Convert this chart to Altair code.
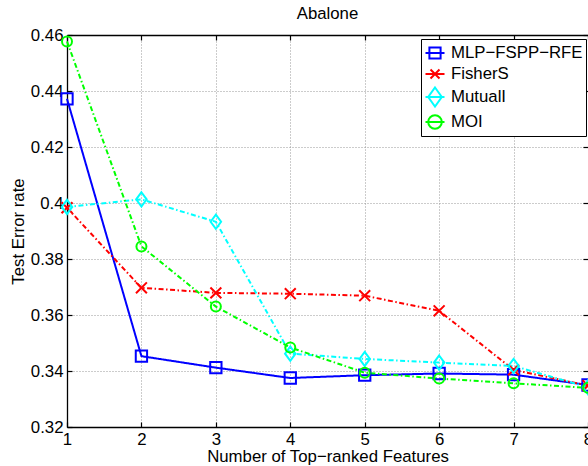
import altair as alt
import pandas as pd

features = [1, 2, 3, 4, 5, 6, 7, 8]
series_names = ["MLP−FSPP−RFE", "FisherS", "MutualI", "MOI"]
mlp = [0.4372, 0.3453, 0.3412, 0.3375, 0.3385, 0.3391, 0.3387, 0.3350]
fisher = [0.3983, 0.3697, 0.3679, 0.3676, 0.3669, 0.3615, 0.3404, 0.3348]
mutual = [0.3986, 0.4013, 0.3933, 0.3462, 0.3443, 0.3430, 0.3418, 0.3342]
moi = [0.4577, 0.3845, 0.3630, 0.3484, 0.3394, 0.3373, 0.3356, 0.3340]
y_ticks = [0.32, 0.34, 0.36, 0.38, 0.40, 0.42, 0.44, 0.46]
colors = ["#0000ff", "#ff0000", "#00ffff", "#00ff00"]

rows = []
for name, vals in zip(series_names, [mlp, fisher, mutual, moi]):
    for f, v in zip(features, vals):
        rows.append({"features": f, "error": v, "series": name})
df = pd.DataFrame(rows)

W, H = 521, 392
FONT = "Liberation Sans"
FS = 16.8

xs = alt.Scale(domain=[1, 8], nice=False, zero=False)
ys = alt.Scale(domain=[0.32, 0.46], nice=False, zero=False)

marker_shapes = [
    "square",
    "M-1,-1L1,1M-1,1L1,-1",
    "M0,-1.36L1,0L0,1.36L-1,0Z",
    "circle",
]
marker_sizes = [128, 100, 196, 196]
legend_shapes = [
    "M-0.95,0H0.95M-0.56,-0.56H0.56V0.56H-0.56Z",
    "M-0.95,0H0.95M-0.45,-0.45L0.45,0.45M-0.45,0.45L0.45,-0.45",
    "M-0.95,0H0.95M0,-0.95L0.68,0L0,0.95L-0.68,0Z",
    "M-0.95,0H0.95M-0.68,0A0.68,0.68 0 1,1 0.68,0A0.68,0.68 0 1,1 -0.68,0Z",
]
dashes = [[1, 0], [5, 2.5, 1.5, 2.5], [5, 2.5, 1.5, 2.5], [5, 2.5, 1.5, 2.5]]

color_scale = alt.Scale(domain=series_names, range=colors)
base = alt.Chart(df)

lines = base.mark_line(strokeWidth=2, clip=False).encode(
    x=alt.X("features:Q", scale=xs, title="Number of Top−ranked Features",
            axis=alt.Axis(values=features, orient="bottom", grid=True, ticks=False,
                          domain=True, labelFlush=False, labelPadding=4,
                          titlePadding=1, format="d")),
    y=alt.Y("error:Q", scale=ys, title="Test Error rate",
            axis=alt.Axis(values=y_ticks, orient="left", grid=True, ticks=False,
                          domain=True, labelFlush=False, labelPadding=4,
                          titlePadding=3, format=".2~f")),
    color=alt.Color("series:N", scale=color_scale, legend=None),
    strokeDash=alt.StrokeDash("series:N", scale=alt.Scale(domain=series_names, range=dashes), legend=None),
    order=alt.Order("features:Q"),
)

points = base.mark_point(filled=False, strokeWidth=2, opacity=1).encode(
    x=alt.X("features:Q", scale=xs,
            axis=alt.Axis(values=features, orient="top", offset=-H, grid=False, ticks=True,
                          tickSize=5, labels=False, domain=False, title=None)),
    y=alt.Y("error:Q", scale=ys,
            axis=alt.Axis(values=y_ticks, orient="right", offset=-W, grid=False, ticks=True,
                          tickSize=5, labels=False, domain=False, title=None)),
    color=alt.Color("series:N", scale=color_scale, legend=None),
    shape=alt.Shape("series:N", scale=alt.Scale(domain=series_names, range=marker_shapes), legend=None),
    size=alt.Size("series:N", scale=alt.Scale(domain=series_names, range=marker_sizes), legend=None),
)

legend_layer = base.transform_filter("false").mark_point(filled=False, strokeWidth=2, opacity=1).encode(
    x=alt.X("features:Q", scale=xs,
            axis=alt.Axis(values=features, orient="bottom", offset=-H, grid=False, ticks=True,
                          tickSize=5, labels=False, domain=True, title=None)),
    y=alt.Y("error:Q", scale=ys,
            axis=alt.Axis(values=y_ticks, orient="left", offset=-W, grid=False, ticks=True,
                          tickSize=5, labels=False, domain=False, title=None)),
    color=alt.Color("series:N", scale=color_scale,
                    legend=alt.Legend(title=None, orient="none", legendX=354, legendY=4)),
    shape=alt.Shape("series:N", scale=alt.Scale(domain=series_names, range=legend_shapes),
                    legend=alt.Legend(title=None, orient="none", legendX=354, legendY=4)),
)

chart = (
    alt.layer(lines, points, legend_layer)
    .resolve_axis(x="independent", y="independent")
    .resolve_scale(color="independent", shape="independent", size="independent", strokeDash="independent")
    .properties(
        width=W, height=H,
        title=alt.TitleParams("Abalone", font=FONT, fontSize=FS, fontWeight="normal",
                              color="black", anchor="middle", offset=4),
        autosize=alt.AutoSizeParams(type="none"),
        padding={"left": 67, "top": 35, "right": 0, "bottom": 39},
    )
    .configure_view(stroke=None)
    .configure_axis(
        labelFont=FONT, labelFontSize=FS, labelColor="black",
        titleFont=FONT, titleFontSize=FS, titleColor="black", titleFontWeight="normal",
        domainColor="black", domainWidth=1.3, tickColor="black", tickWidth=1.2,
        gridColor="#999999", gridDash=[1, 2], gridWidth=1, gridOpacity=1,
    )
    .configure_legend(
        labelFont=FONT, labelFontSize=FS, labelColor="black", labelOffset=5,
        symbolSize=400, symbolStrokeWidth=2, symbolFillColor="transparent",
        fillColor="white", strokeColor="black", padding=3, rowPadding=0,
    )
)

chart.save("out.html", embed_options={"renderer": "svg", "actions": False})
